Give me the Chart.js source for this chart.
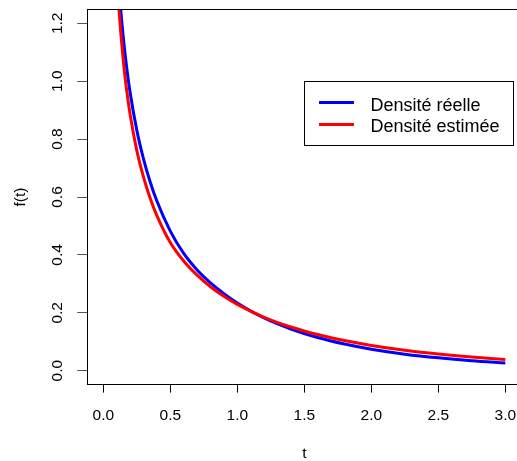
<!DOCTYPE html>
<html>
<head>
<meta charset="utf-8">
<script src="https://cdn.jsdelivr.net/npm/chart.js@4"></script>
<style>
html,body{margin:0;padding:0;background:#fff;overflow:hidden;}
#wrap{position:absolute;left:0;top:0;width:522px;height:461px;}
</style>
</head>
<body>
<div id="wrap"><canvas id="c" width="522" height="461"></canvas></div>
<script>
// ---- data ----
const tReelle = [0.11, 0.13, 0.15, 0.175, 0.2, 0.25, 0.3, 0.35, 0.4, 0.5, 0.6, 0.7, 0.8, 0.9, 1.0, 1.2, 1.4, 1.6, 1.8, 2.0, 2.25, 2.5, 2.75, 3.0];
const densiteReelle = [1.373, 1.248, 1.148, 1.046, 0.962, 0.831, 0.732, 0.652, 0.586, 0.482, 0.405, 0.348, 0.303, 0.266, 0.234, 0.182, 0.144, 0.1146, 0.092, 0.0743, 0.0572, 0.0444, 0.0345, 0.027];
const tEstimee = [0.10, 0.117, 0.15, 0.175, 0.2, 0.25, 0.3, 0.35, 0.4, 0.5, 0.6, 0.7, 0.8, 0.9, 1.0, 1.2, 1.4, 1.6, 1.8, 2.0, 2.25, 2.5, 2.75, 3.0];
const densiteEstimee = [1.374, 1.248, 1.068, 0.967, 0.886, 0.761, 0.669, 0.596, 0.536, 0.443, 0.379, 0.33, 0.29, 0.257, 0.229, 0.1846, 0.151, 0.1248, 0.1041, 0.0874, 0.0708, 0.0577, 0.0473, 0.039];
const xTicks = [0, 0.5, 1, 1.5, 2, 2.5, 3];
const yTicks = [0, 0.2, 0.4, 0.6, 0.8, 1.0, 1.2];
const seriesLabels = ["Densité réelle", "Densité estimée"];
const seriesColors = ["#0000FF", "#FF0000"];
const xTitle = "t";
const yTitle = "f(t)";

const FONT = "'Liberation Sans', Arial, Helvetica, sans-serif";

const pts = (ts, ys) => ts.map((t, i) => ({x: t, y: ys[i]}));

const boxPlugin = {
  id: 'rbox',
  afterDraw(chart) {
    const ctx = chart.ctx, a = chart.chartArea;
    ctx.save();
    ctx.strokeStyle = '#000';
    ctx.lineWidth = 1;
    ctx.strokeRect(Math.round(a.left) + 0.5, Math.round(a.top) + 0.5, Math.round(a.right - a.left), Math.round(a.bottom - a.top));
    // axis titles
    ctx.fillStyle = '#000';
    ctx.font = "15.5px " + FONT;
    ctx.textAlign = 'center';
    ctx.textBaseline = 'alphabetic';
    ctx.fillText(xTitle, (a.left + a.right) / 2, 458);
    ctx.save();
    ctx.translate(25, (a.top + a.bottom) / 2);
    ctx.rotate(-Math.PI / 2);
    ctx.fillText(yTitle, 0, 0);
    ctx.restore();
    // legend
    ctx.fillStyle = '#fff';
    ctx.fillRect(304.5, 81.5, 209, 64);
    ctx.strokeStyle = '#000';
    ctx.strokeRect(304.5, 81.5, 209, 64);
    const lineY = [102.5, 124.5];
    const baseY = [110.5, 131.5];
    ctx.font = "18px " + FONT;
    ctx.textAlign = 'left';
    for (let i = 0; i < seriesLabels.length; i++) {
      ctx.strokeStyle = seriesColors[i];
      ctx.lineWidth = 3;
      ctx.beginPath();
      ctx.moveTo(319, lineY[i]);
      ctx.lineTo(354, lineY[i]);
      ctx.stroke();
      ctx.fillStyle = '#000';
      ctx.fillText(seriesLabels[i], 370.5, baseY[i]);
    }
    ctx.restore();
  }
};

const zeroPad = (s) => { s.paddingTop = 0; s.paddingBottom = 0; s.paddingLeft = 0; s.paddingRight = 0; };

new Chart(document.getElementById('c'), {
  type: 'line',
  data: {
    datasets: [
      {label: seriesLabels[0], data: pts(tReelle, densiteReelle), borderColor: seriesColors[0], borderWidth: 3, pointRadius: 0, cubicInterpolationMode: 'monotone', fill: false, order: 1},
      {label: seriesLabels[1], data: pts(tEstimee, densiteEstimee), borderColor: seriesColors[1], borderWidth: 3, pointRadius: 0, cubicInterpolationMode: 'monotone', fill: false, order: 0}
    ]
  },
  options: {
    responsive: false,
    animation: false,
    layout: {padding: {top: 9.4, right: 0.6, left: 0, bottom: 0}},
    plugins: {legend: {display: false}, tooltip: {enabled: false}},
    scales: {
      x: {
        type: 'linear', min: -0.12, max: 3.12,
        afterBuildTicks: (s) => { s.ticks = xTicks.map(v => ({value: v})); },
        afterFit: (s) => { s.height = 461 - 384.6; zeroPad(s); },
        grid: {drawOnChartArea: false, drawTicks: true, tickLength: 8, color: '#000', lineWidth: 1},
        border: {display: true, color: '#000', width: 1},
        ticks: {color: '#000', font: {family: FONT, size: 15.5}, padding: 13.6, maxRotation: 0, autoSkip: false,
          callback: (v) => Number(v).toFixed(1)}
      },
      y: {
        type: 'linear', min: -0.048, max: 1.248,
        afterBuildTicks: (s) => { s.ticks = yTicks.map(v => ({value: v})); },
        afterFit: (s) => { s.width = 87.2; zeroPad(s); },
        grid: {drawOnChartArea: false, drawTicks: true, tickLength: 10, color: '#555', lineWidth: 1},
        border: {display: true, color: '#000', width: 1},
        ticks: {color: '#000', font: {family: FONT, size: 15.5}, padding: 8.4, minRotation: 90, maxRotation: 90, crossAlign: 'center', autoSkip: false,
          callback: (v) => Number(v).toFixed(1)}
      }
    }
  },
  plugins: [boxPlugin]
});
</script>
</body>
</html>
